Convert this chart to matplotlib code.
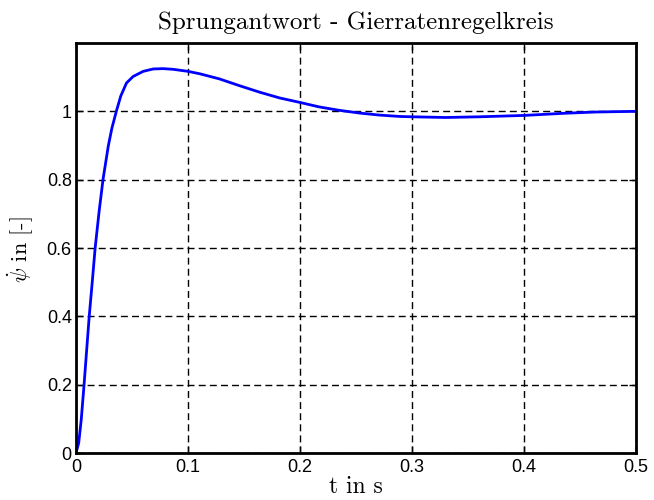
import matplotlib
matplotlib.use("Agg")
import matplotlib.pyplot as plt

# step response
t = [0.0, 0.0024, 0.0047, 0.0072, 0.0118, 0.0145, 0.0171, 0.0205, 0.0241,
     0.0288, 0.032, 0.036, 0.040, 0.0451, 0.051, 0.060, 0.0689, 0.0778,
     0.0867, 0.1, 0.1104, 0.128, 0.146, 0.164, 0.182, 0.2, 0.217, 0.235,
     0.253, 0.271, 0.289, 0.3, 0.330, 0.360, 0.4, 0.434, 0.464, 0.5]
psi = [0.0, 0.029, 0.098, 0.2, 0.4, 0.5, 0.6, 0.703, 0.8,
       0.898, 0.95, 1.0, 1.045, 1.083, 1.102, 1.117, 1.124, 1.125,
       1.123, 1.117, 1.110, 1.095, 1.075, 1.056, 1.039, 1.026, 1.013, 1.003,
       0.995, 0.989, 0.985, 0.984, 0.982, 0.984, 0.988, 0.994, 0.998, 1.0]

x_ticks = [0, 0.1, 0.2, 0.3, 0.4, 0.5]
x_labels = ['0', '0.1', '0.2', '0.3', '0.4', '0.5']
y_ticks = [0, 0.2, 0.4, 0.6, 0.8, 1]
y_labels = ['0', '0.2', '0.4', '0.6', '0.8', '1']

plt.rcParams['mathtext.fontset'] = 'cm'
plt.rcParams['font.family'] = 'Liberation Sans'
plt.rcParams['axes.unicode_minus'] = False

fig = plt.figure(figsize=(6.54, 5.0), dpi=100)
ax = fig.add_axes([0.1162, 0.094, 0.8563, 0.82])

ax.plot(t, psi, color='#0000ff', linewidth=2.0, solid_joinstyle='round')

ax.set_xlim(0, 0.5)
ax.set_ylim(0, 1.2)
ax.set_xticks(x_ticks)
ax.set_xticklabels(x_labels)
ax.set_yticks(y_ticks)
ax.set_yticklabels(y_labels)
ax.tick_params(direction='in', top=True, right=True, length=5, width=1,
               labelsize=13)
ax.tick_params(axis='x', pad=4)
ax.tick_params(axis='y', pad=3)

ax.grid(True, color='black', linestyle=(0, (5, 3)), linewidth=1.0)
for s in ax.spines.values():
    s.set_linewidth(2.0)

ax.set_title('Sprungantwort - Gierratenregelkreis', fontfamily='cmr10',
             fontsize=18, pad=10)
ax.set_xlabel('t in s', fontfamily='cmr10', fontsize=17, labelpad=0.5)
ax.set_ylabel(r'$\dot{\psi}$ in [-]', fontfamily='cmr10', fontsize=16)
ax.yaxis.set_label_coords(-0.072, 0.495)

fig.savefig('out.png', dpi=100)
